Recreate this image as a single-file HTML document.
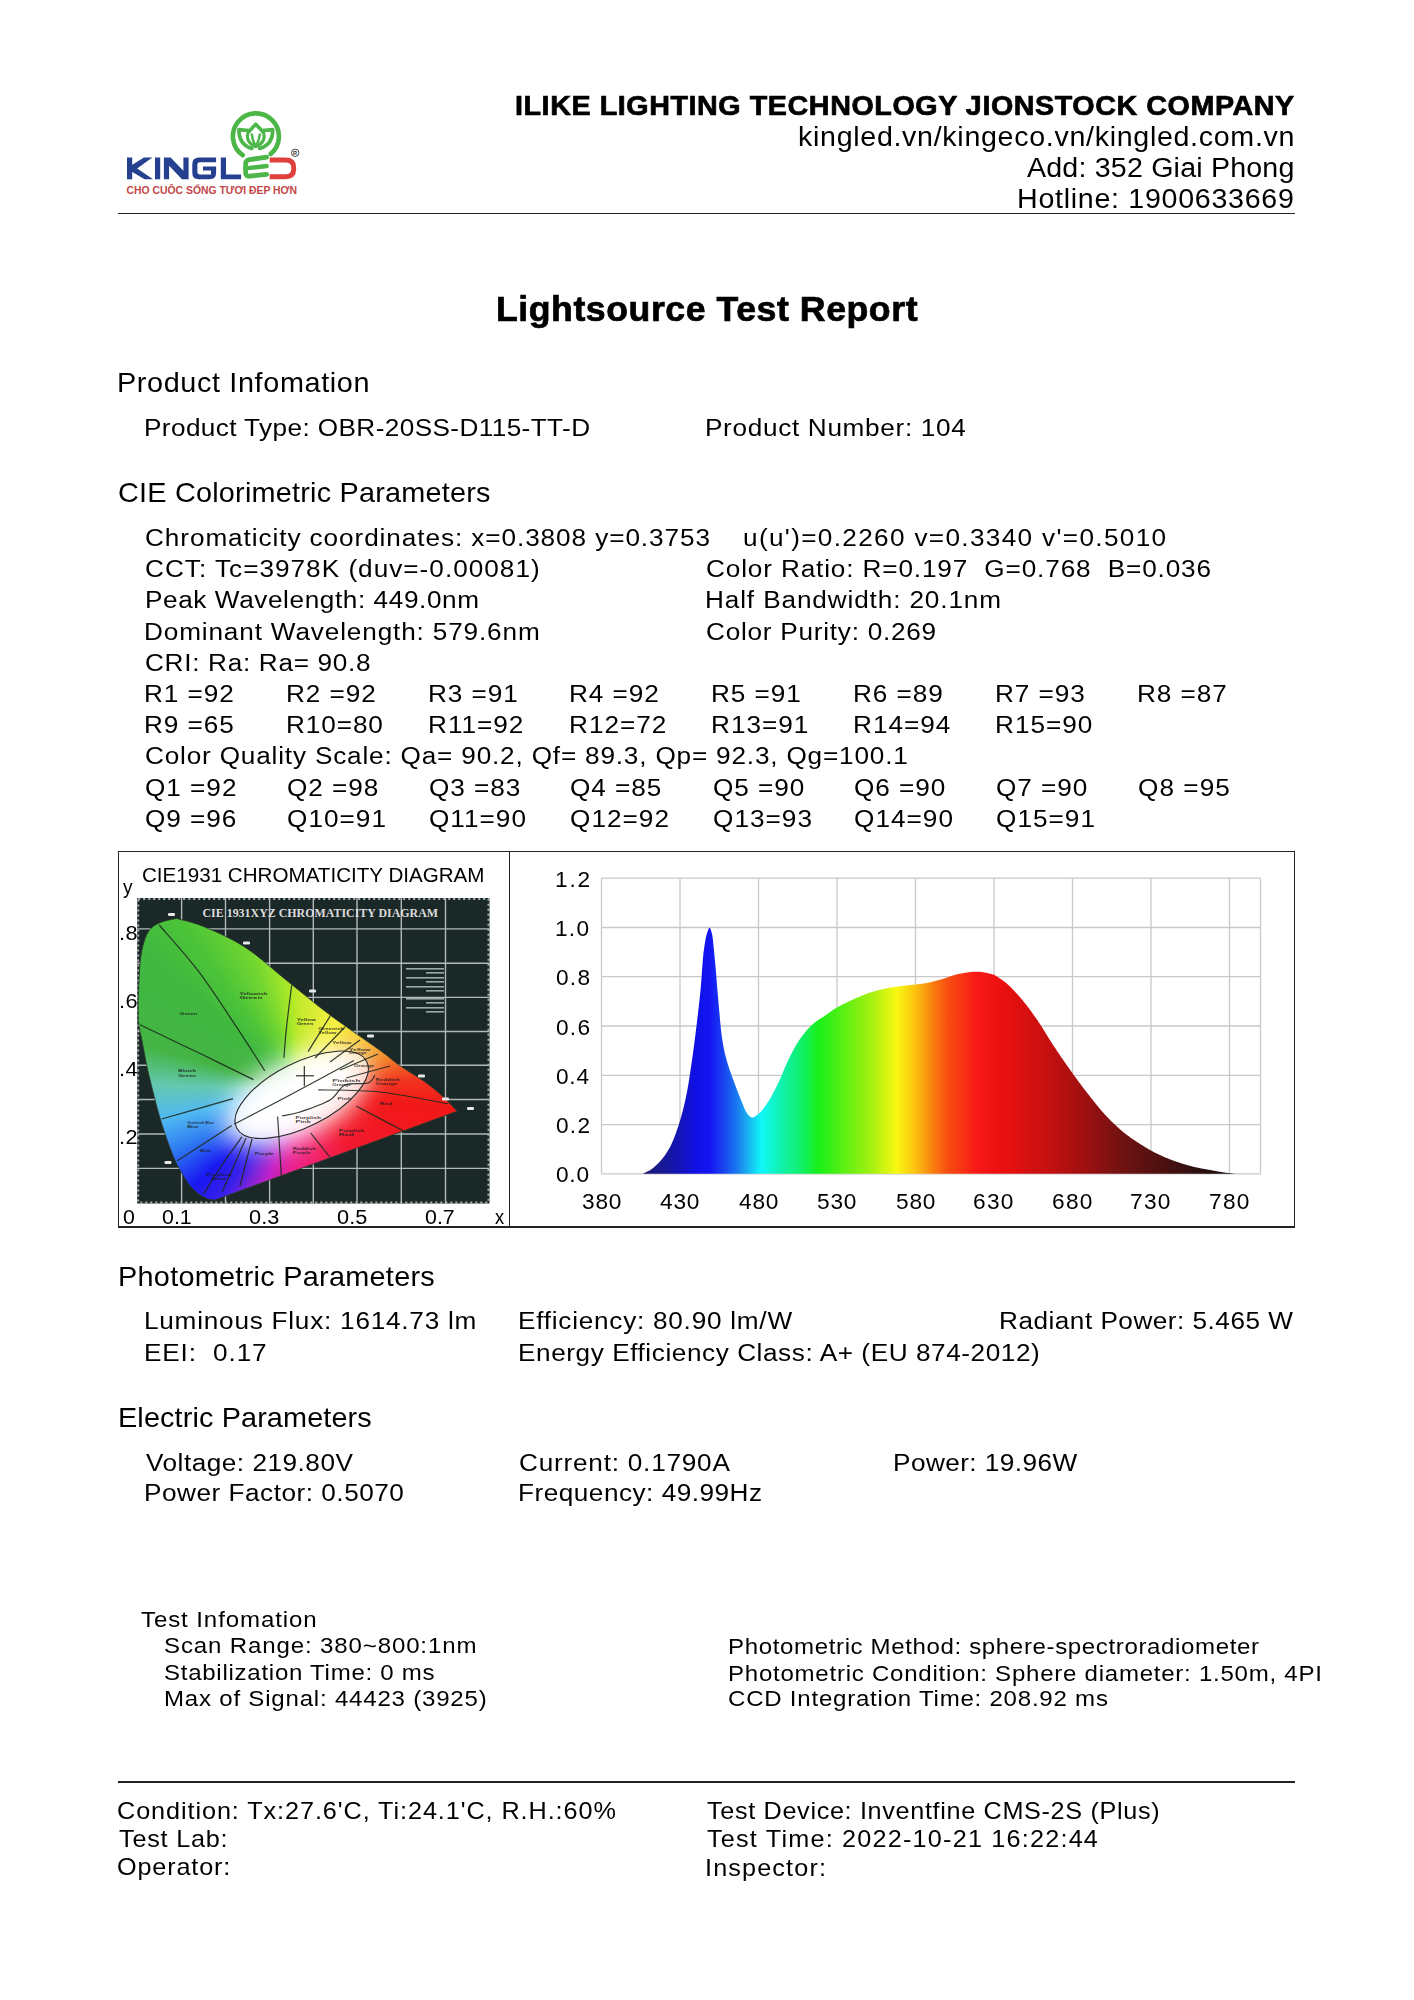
<!DOCTYPE html>
<html><head><meta charset="utf-8"><style>
html,body{margin:0;padding:0;background:#fff;}
body{width:1414px;height:2000px;position:relative;overflow:hidden;font-family:"Liberation Sans",sans-serif;color:#000;}
.t{position:absolute;white-space:pre;line-height:normal;transform-origin:0 0;}
.b{font-weight:bold;-webkit-text-stroke:0.7px #000;}
.abs{position:absolute;left:0;top:0;}
.hl{position:absolute;background:#222;}
</style></head><body>
<svg class="abs" width="320" height="210" viewBox="0 0 320 210">
<g fill="#24408e">
<rect x="127" y="157.5" width="5.2" height="21.8"/>
<polygon points="131.5,165.2 144,157.5 152.3,157.5 137.2,168.4 153,179.3 144.6,179.3 131.5,171.6"/>
<rect x="155" y="157.5" width="5.2" height="21.8"/>
<polygon points="163.9,157.5 170.6,157.5 183.4,170.8 183.4,157.5 188.6,157.5 188.6,179.3 182,179.3 169.1,165.8 169.1,179.3 163.9,179.3"/>
<path d="M216.1,157.5 L199,157.5 Q192.3,157.5 192.3,164 L192.3,172.8 Q192.3,179.3 199,179.3 L209.5,179.3 Q216.1,179.3 216.1,172.8 L216.1,166.6 L203,166.6 L203,170.6 L211,170.6 L211,174.4 L199.5,174.4 Q197.4,174.4 197.4,172.3 L197.4,164.5 Q197.4,162.2 199.5,162.2 L216.1,162.2 Z"/>
<polygon points="220.8,157.5 226,157.5 226,174.5 241.1,174.5 241.1,179.3 220.8,179.3"/>
</g>
<g fill="none" stroke="#4cb748" stroke-linecap="round" stroke-linejoin="round">
<path d="M242.71,155.24 A23.0,23.0 0 1 1 270.68,154.02" stroke-width="4.6"/>
<path d="M266.6,157.2 L249.5,159.7 Q245.6,160.3 245.6,164 L245.6,172.6 Q245.6,176.6 249.5,176.2 L266.6,174.3" stroke-width="4.8"/>
<path d="M245.8,168.4 L266.6,166" stroke-width="4.4"/>
<path d="M249.2,131.2 L255.8,124.2 L262.5,131.2" stroke-width="3.6"/>
<path d="M249,131 C245.5,137 248,143.5 255.6,146.6" stroke-width="3.2"/>
<path d="M262.6,131 C266.1,137 263.6,143.5 256,146.6" stroke-width="3.2"/>
<path d="M251.8,134.5 Q253,142 255.8,145.6 Q258.6,142 259.8,134.5" stroke-width="2.4"/>
<path d="M248.8,130.7 L239,129.6 Q238.6,144.5 251.8,148.4" stroke-width="3.8"/>
<path d="M262.8,130.7 L272.6,129.6 Q273,144.5 259.8,148.4" stroke-width="3.8"/>
</g>
<path d="M269.7,160 L285.5,160 Q293.7,160 293.7,167.5 L293.7,169.3 Q293.7,176.7 285.5,176.7 L269.7,176.7" fill="none" stroke="#e0403c" stroke-width="4.9"/>
<circle cx="295.2" cy="152.8" r="3.7" fill="none" stroke="#333" stroke-width="0.9"/>
<text x="293.1" y="155" font-family="Liberation Sans" font-weight="bold" font-size="5.6" fill="#333">R</text>
<text x="126.5" y="193.7" font-family="Liberation Sans" font-weight="bold" font-size="10.6" fill="#c2474a" textLength="170.5" lengthAdjust="spacingAndGlyphs">CHO CUÔC SỐNG TƯƠI ĐEP HƠN</text>
</svg>

<div class="hl" style="left:118px;top:212.5px;width:1177px;height:1.6px"></div>
<div class="hl" style="left:117.6px;top:1781px;width:1177.4px;height:1.6px"></div>
<div class="hl" style="left:117.5px;top:851px;width:1177.5px;height:1.3px"></div>
<div class="hl" style="left:117.5px;top:1226.4px;width:1177.5px;height:1.3px"></div>
<div class="hl" style="left:117.5px;top:851px;width:1.3px;height:376.7px"></div>
<div class="hl" style="left:1293.9px;top:851px;width:1.3px;height:376.7px"></div>
<div class="hl" style="left:509.2px;top:851px;width:1.3px;height:376.7px"></div>
<svg class="abs" width="1414" height="2000" viewBox="0 0 1414 2000">
<defs><linearGradient id="sg" gradientUnits="userSpaceOnUse" x1="642.3" y1="0" x2="1237.3" y2="0"><stop offset="0.0000" stop-color="#161668"/><stop offset="0.0264" stop-color="#1a1a8c"/><stop offset="0.0633" stop-color="#1414b8"/><stop offset="0.0897" stop-color="#1010e6"/><stop offset="0.1135" stop-color="#1414f4"/><stop offset="0.1346" stop-color="#1840f0"/><stop offset="0.1557" stop-color="#1a70f0"/><stop offset="0.1768" stop-color="#18b0f0"/><stop offset="0.2005" stop-color="#10f8f8"/><stop offset="0.2401" stop-color="#10f0a0"/><stop offset="0.2718" stop-color="#10f060"/><stop offset="0.2955" stop-color="#18f018"/><stop offset="0.3826" stop-color="#a0f010"/><stop offset="0.4274" stop-color="#f8f810"/><stop offset="0.4591" stop-color="#fcc010"/><stop offset="0.4881" stop-color="#f88010"/><stop offset="0.5119" stop-color="#f85010"/><stop offset="0.5620" stop-color="#f81818"/><stop offset="0.6016" stop-color="#ec1010"/><stop offset="0.6438" stop-color="#d81010"/><stop offset="0.6913" stop-color="#c01010"/><stop offset="0.7493" stop-color="#9a1010"/><stop offset="0.8074" stop-color="#701212"/><stop offset="0.8681" stop-color="#501010"/><stop offset="0.9261" stop-color="#301010"/><stop offset="1.0000" stop-color="#140a0a"/></linearGradient></defs>
<g stroke="#c8c8c8" stroke-width="1.3" fill="none"><line x1="601.5" y1="878.2" x2="601.5" y2="1173.8"/><line x1="680.0" y1="878.2" x2="680.0" y2="1173.8"/><line x1="758.5" y1="878.2" x2="758.5" y2="1173.8"/><line x1="837.0" y1="878.2" x2="837.0" y2="1173.8"/><line x1="915.5" y1="878.2" x2="915.5" y2="1173.8"/><line x1="994.0" y1="878.2" x2="994.0" y2="1173.8"/><line x1="1072.5" y1="878.2" x2="1072.5" y2="1173.8"/><line x1="1151.0" y1="878.2" x2="1151.0" y2="1173.8"/><line x1="1229.5" y1="878.2" x2="1229.5" y2="1173.8"/><line x1="601.5" y1="878.2" x2="1260.5" y2="878.2"/><line x1="601.5" y1="927.5" x2="1260.5" y2="927.5"/><line x1="601.5" y1="976.7" x2="1260.5" y2="976.7"/><line x1="601.5" y1="1026.0" x2="1260.5" y2="1026.0"/><line x1="601.5" y1="1075.3" x2="1260.5" y2="1075.3"/><line x1="601.5" y1="1124.6" x2="1260.5" y2="1124.6"/><line x1="601.5" y1="1173.8" x2="1260.5" y2="1173.8"/><line x1="1260.5" y1="878.2" x2="1260.5" y2="1173.8"/></g>
<path d="M642.6,1173.8 L642.63,1173.80 L643.17,1173.54 L643.71,1173.29 L644.25,1173.04 L644.79,1172.80 L645.33,1172.56 L645.86,1172.32 L646.40,1172.07 L646.94,1171.82 L647.48,1171.57 L648.02,1171.30 L648.56,1171.02 L649.09,1170.73 L649.63,1170.43 L650.17,1170.10 L650.71,1169.76 L651.26,1169.39 L651.80,1169.01 L652.35,1168.61 L652.89,1168.19 L653.44,1167.76 L653.98,1167.31 L654.52,1166.84 L655.07,1166.36 L655.61,1165.87 L656.16,1165.36 L656.70,1164.84 L657.25,1164.30 L657.79,1163.76 L658.33,1163.20 L658.87,1162.64 L659.41,1162.06 L659.95,1161.47 L660.49,1160.86 L661.03,1160.24 L661.56,1159.61 L662.10,1158.95 L662.64,1158.28 L663.18,1157.59 L663.72,1156.88 L664.26,1156.16 L664.79,1155.41 L665.33,1154.64 L665.87,1153.85 L666.41,1153.04 L666.95,1152.20 L667.48,1151.35 L668.02,1150.46 L668.56,1149.56 L669.10,1148.63 L669.64,1147.67 L670.19,1146.65 L670.74,1145.58 L671.29,1144.45 L671.84,1143.28 L672.39,1142.05 L672.93,1140.77 L673.48,1139.45 L674.03,1138.08 L674.58,1136.67 L675.13,1135.21 L675.68,1133.72 L676.23,1132.19 L676.78,1130.62 L677.33,1129.02 L677.88,1127.38 L678.43,1125.71 L678.98,1124.01 L679.53,1122.28 L680.07,1120.53 L680.62,1118.71 L681.16,1116.82 L681.70,1114.87 L682.25,1112.84 L682.79,1110.74 L683.33,1108.57 L683.88,1106.33 L684.42,1104.01 L684.96,1101.61 L685.51,1099.13 L686.05,1096.58 L686.59,1093.93 L687.16,1091.03 L687.72,1087.93 L688.29,1084.64 L688.85,1081.19 L689.42,1077.60 L689.99,1073.90 L690.55,1070.11 L691.12,1066.26 L691.68,1062.36 L692.25,1058.44 L692.78,1054.70 L693.31,1050.86 L693.84,1046.92 L694.37,1042.88 L694.90,1038.76 L695.43,1034.55 L695.96,1030.26 L696.49,1025.90 L697.01,1021.51 L697.54,1017.09 L698.07,1012.60 L698.60,1008.01 L699.13,1003.26 L699.66,998.32 L700.19,993.15 L700.72,987.69 L701.29,980.90 L701.85,973.07 L702.42,965.12 L702.98,957.94 L703.55,952.44 L704.15,948.00 L704.75,943.99 L705.36,940.42 L705.96,937.34 L706.56,934.77 L707.16,932.72 L707.75,930.98 L708.34,929.39 L708.93,928.24 L709.52,927.79 L710.14,928.31 L710.77,929.68 L711.40,931.64 L712.03,933.96 L712.59,937.08 L713.16,941.77 L713.72,947.46 L714.29,953.59 L714.85,959.59 L715.46,966.08 L716.06,973.11 L716.66,980.46 L717.26,987.88 L717.86,995.14 L718.47,1001.99 L719.04,1008.42 L719.62,1014.98 L720.19,1021.39 L720.77,1027.42 L721.34,1032.79 L721.92,1037.24 L722.45,1040.68 L722.98,1043.84 L723.51,1046.74 L724.04,1049.41 L724.57,1051.88 L725.10,1054.19 L725.63,1056.37 L726.16,1058.44 L726.70,1060.46 L727.24,1062.37 L727.79,1064.19 L728.33,1065.92 L728.88,1067.58 L729.42,1069.17 L729.96,1070.72 L730.51,1072.23 L731.05,1073.71 L731.59,1075.18 L732.14,1076.65 L732.68,1078.13 L733.22,1079.64 L733.77,1081.15 L734.31,1082.65 L734.85,1084.14 L735.40,1085.62 L735.94,1087.08 L736.48,1088.52 L737.03,1089.95 L737.57,1091.36 L738.11,1092.76 L738.66,1094.13 L739.20,1095.48 L739.74,1096.81 L740.29,1098.12 L740.83,1099.45 L741.37,1100.81 L741.92,1102.20 L742.46,1103.59 L743.01,1104.97 L743.55,1106.32 L744.09,1107.63 L744.64,1108.88 L745.18,1110.05 L745.72,1111.14 L746.27,1112.11 L746.81,1112.95 L747.35,1113.65 L747.89,1114.28 L748.43,1114.91 L748.98,1115.51 L749.52,1116.07 L750.06,1116.57 L750.60,1116.99 L751.14,1117.32 L751.68,1117.52 L752.22,1117.60 L752.76,1117.55 L753.29,1117.43 L753.83,1117.23 L754.37,1116.96 L754.90,1116.64 L755.44,1116.28 L755.97,1115.87 L756.51,1115.45 L757.05,1115.00 L757.58,1114.55 L758.12,1114.10 L758.66,1113.65 L759.21,1113.19 L759.76,1112.69 L760.31,1112.15 L760.86,1111.57 L761.40,1110.96 L761.95,1110.32 L762.50,1109.65 L763.05,1108.96 L763.60,1108.24 L764.15,1107.50 L764.70,1106.74 L765.25,1105.97 L765.80,1105.18 L766.35,1104.37 L766.90,1103.56 L767.45,1102.74 L768.00,1101.91 L768.55,1101.08 L769.10,1100.24 L769.65,1099.36 L770.20,1098.45 L770.75,1097.52 L771.30,1096.56 L771.85,1095.58 L772.39,1094.58 L772.94,1093.56 L773.49,1092.51 L774.04,1091.46 L774.59,1090.38 L775.14,1089.30 L775.69,1088.20 L776.24,1087.09 L776.79,1085.98 L777.34,1084.85 L777.89,1083.73 L778.44,1082.60 L778.99,1081.44 L779.54,1080.25 L780.09,1079.02 L780.64,1077.76 L781.19,1076.48 L781.74,1075.18 L782.29,1073.87 L782.84,1072.54 L783.38,1071.22 L783.93,1069.89 L784.48,1068.57 L785.03,1067.26 L785.58,1065.96 L786.13,1064.69 L786.68,1063.45 L787.23,1062.23 L787.78,1061.05 L788.33,1059.92 L788.88,1058.81 L789.42,1057.71 L789.97,1056.61 L790.51,1055.52 L791.06,1054.44 L791.60,1053.36 L792.15,1052.30 L792.70,1051.25 L793.24,1050.21 L793.79,1049.18 L794.33,1048.17 L794.88,1047.18 L795.42,1046.20 L795.97,1045.24 L796.52,1044.31 L797.06,1043.40 L797.61,1042.51 L798.15,1041.64 L798.70,1040.80 L799.25,1039.99 L799.79,1039.21 L800.33,1038.45 L800.88,1037.71 L801.42,1036.97 L801.96,1036.24 L802.51,1035.53 L803.05,1034.82 L803.60,1034.13 L804.14,1033.44 L804.68,1032.77 L805.23,1032.11 L805.77,1031.46 L806.31,1030.83 L806.86,1030.20 L807.40,1029.59 L807.94,1028.99 L808.49,1028.40 L809.03,1027.82 L809.57,1027.25 L810.12,1026.70 L810.66,1026.16 L811.20,1025.63 L811.75,1025.12 L812.29,1024.62 L812.83,1024.13 L813.38,1023.65 L813.92,1023.19 L814.45,1022.76 L814.97,1022.34 L815.50,1021.94 L816.02,1021.55 L816.55,1021.17 L817.08,1020.80 L817.60,1020.44 L818.13,1020.09 L818.65,1019.75 L819.18,1019.41 L819.71,1019.08 L820.23,1018.75 L820.76,1018.42 L821.28,1018.09 L821.81,1017.76 L822.34,1017.43 L822.86,1017.09 L823.39,1016.75 L823.91,1016.40 L824.44,1016.04 L824.96,1015.68 L825.49,1015.31 L826.01,1014.94 L826.53,1014.56 L827.06,1014.18 L827.58,1013.80 L828.10,1013.42 L828.63,1013.04 L829.15,1012.66 L829.67,1012.28 L830.20,1011.90 L830.72,1011.52 L831.24,1011.15 L831.77,1010.78 L832.29,1010.42 L832.81,1010.06 L833.34,1009.71 L833.86,1009.37 L834.38,1009.04 L834.91,1008.71 L835.43,1008.40 L835.96,1008.08 L836.50,1007.78 L837.03,1007.47 L837.56,1007.17 L838.09,1006.87 L838.63,1006.57 L839.16,1006.28 L839.69,1005.99 L840.23,1005.70 L840.76,1005.42 L841.29,1005.14 L841.82,1004.86 L842.36,1004.59 L842.89,1004.31 L843.42,1004.05 L843.96,1003.78 L844.49,1003.51 L845.02,1003.25 L845.55,1002.99 L846.09,1002.73 L846.62,1002.48 L847.15,1002.22 L847.69,1001.97 L848.22,1001.72 L848.75,1001.47 L849.28,1001.22 L849.82,1000.98 L850.35,1000.73 L850.88,1000.49 L851.42,1000.25 L851.95,1000.00 L852.48,999.76 L853.01,999.52 L853.55,999.28 L854.09,999.04 L854.63,998.80 L855.16,998.56 L855.70,998.32 L856.24,998.08 L856.78,997.84 L857.31,997.61 L857.85,997.37 L858.39,997.13 L858.93,996.90 L859.47,996.67 L860.00,996.44 L860.54,996.21 L861.08,995.98 L861.62,995.76 L862.15,995.53 L862.69,995.31 L863.23,995.09 L863.77,994.88 L864.30,994.67 L864.84,994.46 L865.38,994.25 L865.92,994.04 L866.45,993.84 L866.99,993.65 L867.53,993.45 L868.07,993.26 L868.60,993.08 L869.14,992.90 L869.68,992.72 L870.22,992.55 L870.75,992.38 L871.29,992.21 L871.82,992.05 L872.35,991.89 L872.89,991.73 L873.42,991.57 L873.95,991.41 L874.48,991.26 L875.02,991.10 L875.55,990.95 L876.08,990.80 L876.62,990.65 L877.15,990.50 L877.68,990.36 L878.21,990.22 L878.75,990.08 L879.28,989.94 L879.81,989.80 L880.35,989.67 L880.88,989.54 L881.41,989.41 L881.94,989.28 L882.48,989.15 L883.01,989.03 L883.54,988.91 L884.08,988.79 L884.61,988.67 L885.14,988.56 L885.67,988.45 L886.21,988.34 L886.74,988.24 L887.27,988.14 L887.81,988.04 L888.34,987.94 L888.88,987.84 L889.41,987.75 L889.95,987.66 L890.49,987.57 L891.03,987.48 L891.56,987.40 L892.10,987.31 L892.64,987.23 L893.18,987.15 L893.72,987.07 L894.25,986.99 L894.79,986.91 L895.33,986.84 L895.87,986.76 L896.40,986.69 L896.94,986.62 L897.48,986.55 L898.02,986.48 L898.55,986.41 L899.09,986.34 L899.63,986.27 L900.17,986.20 L900.70,986.13 L901.24,986.07 L901.78,986.00 L902.32,985.94 L902.85,985.87 L903.39,985.80 L903.93,985.74 L904.47,985.67 L905.00,985.61 L905.54,985.54 L906.08,985.47 L906.62,985.41 L907.16,985.35 L907.69,985.28 L908.23,985.22 L908.77,985.17 L909.31,985.11 L909.84,985.05 L910.38,985.00 L910.92,984.94 L911.46,984.89 L911.99,984.84 L912.53,984.79 L913.07,984.73 L913.61,984.68 L914.14,984.63 L914.68,984.58 L915.22,984.52 L915.76,984.47 L916.29,984.42 L916.83,984.36 L917.37,984.31 L917.91,984.25 L918.44,984.19 L918.98,984.13 L919.52,984.07 L920.06,984.01 L920.60,983.94 L921.13,983.87 L921.67,983.81 L922.21,983.73 L922.75,983.66 L923.28,983.58 L923.82,983.50 L924.35,983.42 L924.89,983.33 L925.42,983.24 L925.95,983.14 L926.49,983.04 L927.02,982.94 L927.55,982.83 L928.08,982.72 L928.62,982.61 L929.15,982.49 L929.68,982.37 L930.22,982.25 L930.75,982.12 L931.28,981.99 L931.81,981.86 L932.35,981.73 L932.88,981.59 L933.41,981.46 L933.95,981.32 L934.48,981.18 L935.01,981.04 L935.54,980.90 L936.08,980.76 L936.61,980.61 L937.14,980.47 L937.68,980.32 L938.21,980.18 L938.74,980.03 L939.27,979.89 L939.81,979.74 L940.34,979.60 L940.87,979.45 L941.40,979.31 L941.94,979.16 L942.48,979.01 L943.02,978.85 L943.56,978.69 L944.09,978.52 L944.63,978.35 L945.17,978.17 L945.71,977.99 L946.24,977.81 L946.78,977.62 L947.32,977.44 L947.86,977.25 L948.39,977.06 L948.93,976.87 L949.47,976.68 L950.01,976.50 L950.54,976.31 L951.08,976.12 L951.62,975.94 L952.16,975.76 L952.69,975.58 L953.23,975.41 L953.77,975.24 L954.31,975.08 L954.85,974.92 L955.38,974.77 L955.92,974.62 L956.46,974.48 L957.00,974.34 L957.53,974.22 L958.07,974.10 L958.61,973.99 L959.15,973.89 L959.68,973.79 L960.21,973.70 L960.74,973.60 L961.28,973.50 L961.81,973.41 L962.34,973.31 L962.88,973.22 L963.41,973.12 L963.94,973.03 L964.47,972.94 L965.01,972.85 L965.54,972.76 L966.07,972.67 L966.61,972.59 L967.14,972.51 L967.67,972.43 L968.20,972.35 L968.74,972.27 L969.27,972.20 L969.80,972.14 L970.34,972.07 L970.87,972.01 L971.40,971.96 L971.93,971.91 L972.47,971.86 L973.00,971.82 L973.53,971.78 L974.07,971.75 L974.60,971.72 L975.13,971.70 L975.66,971.68 L976.20,971.67 L976.73,971.67 L977.26,971.67 L977.79,971.69 L978.32,971.71 L978.85,971.74 L979.38,971.77 L979.90,971.81 L980.43,971.86 L980.96,971.92 L981.49,971.98 L982.02,972.05 L982.55,972.13 L983.08,972.21 L983.61,972.29 L984.14,972.38 L984.67,972.48 L985.20,972.58 L985.73,972.68 L986.25,972.79 L986.78,972.90 L987.31,973.02 L987.84,973.13 L988.37,973.25 L988.90,973.38 L989.43,973.50 L989.96,973.63 L990.49,973.76 L991.02,973.89 L991.55,974.03 L992.08,974.20 L992.61,974.38 L993.15,974.59 L993.68,974.81 L994.21,975.05 L994.74,975.31 L995.28,975.58 L995.81,975.87 L996.34,976.17 L996.87,976.48 L997.41,976.80 L997.94,977.13 L998.47,977.48 L999.00,977.83 L999.54,978.18 L1000.07,978.55 L1000.60,978.92 L1001.13,979.29 L1001.67,979.66 L1002.20,980.04 L1002.73,980.41 L1003.26,980.79 L1003.80,981.18 L1004.34,981.58 L1004.88,981.99 L1005.42,982.42 L1005.95,982.86 L1006.49,983.32 L1007.03,983.78 L1007.57,984.26 L1008.11,984.74 L1008.65,985.24 L1009.18,985.75 L1009.72,986.26 L1010.26,986.79 L1010.80,987.32 L1011.34,987.86 L1011.88,988.40 L1012.41,988.96 L1012.95,989.52 L1013.49,990.08 L1014.03,990.65 L1014.57,991.23 L1015.11,991.81 L1015.64,992.39 L1016.18,992.97 L1016.72,993.56 L1017.26,994.15 L1017.80,994.74 L1018.34,995.33 L1018.87,995.93 L1019.41,996.53 L1019.95,997.15 L1020.49,997.77 L1021.02,998.39 L1021.56,999.03 L1022.10,999.67 L1022.64,1000.32 L1023.17,1000.97 L1023.71,1001.64 L1024.25,1002.31 L1024.79,1002.98 L1025.32,1003.66 L1025.86,1004.35 L1026.40,1005.04 L1026.94,1005.74 L1027.47,1006.44 L1028.01,1007.15 L1028.55,1007.86 L1029.09,1008.58 L1029.62,1009.31 L1030.16,1010.03 L1030.70,1010.76 L1031.24,1011.50 L1031.78,1012.24 L1032.31,1012.98 L1032.85,1013.73 L1033.39,1014.47 L1033.93,1015.23 L1034.46,1015.98 L1035.00,1016.74 L1035.54,1017.50 L1036.08,1018.26 L1036.61,1019.02 L1037.14,1019.78 L1037.67,1020.56 L1038.20,1021.35 L1038.73,1022.15 L1039.26,1022.96 L1039.79,1023.78 L1040.32,1024.60 L1040.84,1025.43 L1041.37,1026.26 L1041.90,1027.11 L1042.43,1027.95 L1042.96,1028.80 L1043.49,1029.66 L1044.02,1030.51 L1044.55,1031.37 L1045.08,1032.23 L1045.61,1033.09 L1046.14,1033.95 L1046.67,1034.82 L1047.20,1035.68 L1047.73,1036.53 L1048.26,1037.39 L1048.79,1038.24 L1049.32,1039.09 L1049.85,1039.94 L1050.38,1040.78 L1050.91,1041.61 L1051.44,1042.44 L1051.97,1043.26 L1052.50,1044.07 L1053.03,1044.88 L1053.56,1045.68 L1054.08,1046.47 L1054.61,1047.26 L1055.14,1048.05 L1055.66,1048.84 L1056.19,1049.63 L1056.72,1050.42 L1057.24,1051.20 L1057.77,1051.98 L1058.29,1052.77 L1058.82,1053.55 L1059.35,1054.32 L1059.87,1055.10 L1060.40,1055.88 L1060.92,1056.65 L1061.45,1057.42 L1061.98,1058.19 L1062.50,1058.96 L1063.03,1059.73 L1063.56,1060.50 L1064.08,1061.26 L1064.61,1062.02 L1065.13,1062.78 L1065.66,1063.54 L1066.19,1064.30 L1066.71,1065.05 L1067.24,1065.80 L1067.76,1066.56 L1068.29,1067.30 L1068.82,1068.05 L1069.34,1068.80 L1069.87,1069.54 L1070.40,1070.28 L1070.92,1071.02 L1071.45,1071.76 L1071.97,1072.49 L1072.50,1073.23 L1073.03,1073.96 L1073.56,1074.70 L1074.09,1075.43 L1074.61,1076.16 L1075.14,1076.89 L1075.67,1077.61 L1076.20,1078.34 L1076.73,1079.06 L1077.26,1079.78 L1077.79,1080.50 L1078.31,1081.22 L1078.84,1081.94 L1079.37,1082.65 L1079.90,1083.36 L1080.43,1084.07 L1080.96,1084.78 L1081.49,1085.48 L1082.01,1086.19 L1082.54,1086.89 L1083.07,1087.58 L1083.60,1088.28 L1084.13,1088.97 L1084.66,1089.66 L1085.19,1090.35 L1085.71,1091.04 L1086.24,1091.72 L1086.77,1092.40 L1087.30,1093.08 L1087.83,1093.75 L1088.36,1094.43 L1088.89,1095.10 L1089.42,1095.78 L1089.96,1096.46 L1090.49,1097.13 L1091.02,1097.81 L1091.55,1098.49 L1092.09,1099.16 L1092.62,1099.84 L1093.15,1100.51 L1093.69,1101.18 L1094.22,1101.85 L1094.75,1102.52 L1095.28,1103.18 L1095.82,1103.84 L1096.35,1104.50 L1096.88,1105.16 L1097.42,1105.81 L1097.95,1106.46 L1098.48,1107.11 L1099.01,1107.75 L1099.55,1108.39 L1100.08,1109.02 L1100.61,1109.65 L1101.15,1110.28 L1101.68,1110.89 L1102.21,1111.51 L1102.74,1112.11 L1103.28,1112.72 L1103.81,1113.31 L1104.34,1113.90 L1104.88,1114.48 L1105.41,1115.06 L1105.94,1115.63 L1106.48,1116.19 L1107.02,1116.76 L1107.55,1117.32 L1108.09,1117.88 L1108.63,1118.44 L1109.17,1118.99 L1109.70,1119.54 L1110.24,1120.08 L1110.78,1120.63 L1111.32,1121.16 L1111.85,1121.70 L1112.39,1122.23 L1112.93,1122.76 L1113.47,1123.28 L1114.01,1123.80 L1114.54,1124.32 L1115.08,1124.83 L1115.62,1125.33 L1116.16,1125.84 L1116.69,1126.34 L1117.23,1126.83 L1117.77,1127.32 L1118.31,1127.81 L1118.84,1128.29 L1119.38,1128.76 L1119.92,1129.23 L1120.46,1129.70 L1120.99,1130.16 L1121.53,1130.62 L1122.07,1131.07 L1122.61,1131.51 L1123.14,1131.95 L1123.68,1132.39 L1124.21,1132.81 L1124.75,1133.24 L1125.28,1133.66 L1125.81,1134.07 L1126.35,1134.48 L1126.88,1134.89 L1127.41,1135.29 L1127.94,1135.69 L1128.48,1136.09 L1129.01,1136.48 L1129.54,1136.87 L1130.08,1137.25 L1130.61,1137.64 L1131.14,1138.02 L1131.67,1138.39 L1132.21,1138.76 L1132.74,1139.13 L1133.27,1139.50 L1133.81,1139.87 L1134.34,1140.23 L1134.87,1140.59 L1135.40,1140.94 L1135.94,1141.30 L1136.47,1141.65 L1137.00,1142.00 L1137.54,1142.34 L1138.07,1142.69 L1138.60,1143.03 L1139.13,1143.37 L1139.67,1143.71 L1140.20,1144.05 L1140.73,1144.38 L1141.27,1144.71 L1141.80,1145.04 L1142.33,1145.37 L1142.86,1145.70 L1143.40,1146.03 L1143.93,1146.36 L1144.46,1146.68 L1145.00,1147.01 L1145.53,1147.33 L1146.06,1147.65 L1146.59,1147.97 L1147.13,1148.28 L1147.66,1148.60 L1148.19,1148.91 L1148.73,1149.22 L1149.26,1149.52 L1149.79,1149.83 L1150.32,1150.13 L1150.86,1150.43 L1151.39,1150.73 L1151.92,1151.03 L1152.46,1151.32 L1152.99,1151.61 L1153.52,1151.89 L1154.05,1152.18 L1154.59,1152.46 L1155.12,1152.73 L1155.65,1153.01 L1156.19,1153.28 L1156.72,1153.54 L1157.25,1153.81 L1157.78,1154.07 L1158.32,1154.32 L1158.85,1154.57 L1159.39,1154.82 L1159.93,1155.07 L1160.46,1155.32 L1161.00,1155.56 L1161.54,1155.81 L1162.08,1156.05 L1162.61,1156.28 L1163.15,1156.52 L1163.69,1156.75 L1164.23,1156.98 L1164.76,1157.21 L1165.30,1157.44 L1165.84,1157.66 L1166.38,1157.89 L1166.91,1158.11 L1167.45,1158.32 L1167.99,1158.54 L1168.53,1158.76 L1169.06,1158.97 L1169.60,1159.18 L1170.14,1159.38 L1170.68,1159.59 L1171.21,1159.79 L1171.75,1160.00 L1172.29,1160.20 L1172.83,1160.39 L1173.37,1160.59 L1173.90,1160.78 L1174.44,1160.97 L1174.98,1161.16 L1175.52,1161.35 L1176.05,1161.54 L1176.59,1161.72 L1177.12,1161.90 L1177.66,1162.08 L1178.19,1162.26 L1178.72,1162.44 L1179.26,1162.61 L1179.79,1162.79 L1180.32,1162.96 L1180.85,1163.14 L1181.39,1163.31 L1181.92,1163.48 L1182.45,1163.64 L1182.99,1163.81 L1183.52,1163.98 L1184.05,1164.14 L1184.58,1164.30 L1185.12,1164.46 L1185.65,1164.62 L1186.18,1164.78 L1186.72,1164.93 L1187.25,1165.09 L1187.78,1165.24 L1188.31,1165.39 L1188.85,1165.54 L1189.38,1165.68 L1189.91,1165.83 L1190.45,1165.97 L1190.98,1166.11 L1191.51,1166.24 L1192.04,1166.38 L1192.58,1166.51 L1193.11,1166.64 L1193.64,1166.77 L1194.17,1166.90 L1194.71,1167.02 L1195.25,1167.15 L1195.79,1167.27 L1196.33,1167.39 L1196.86,1167.50 L1197.40,1167.62 L1197.94,1167.73 L1198.48,1167.84 L1199.01,1167.95 L1199.55,1168.06 L1200.09,1168.17 L1200.63,1168.28 L1201.16,1168.38 L1201.70,1168.48 L1202.24,1168.59 L1202.78,1168.69 L1203.31,1168.79 L1203.85,1168.89 L1204.39,1168.99 L1204.93,1169.09 L1205.46,1169.19 L1206.00,1169.28 L1206.54,1169.38 L1207.08,1169.48 L1207.62,1169.57 L1208.15,1169.67 L1208.69,1169.77 L1209.23,1169.86 L1209.77,1169.96 L1210.30,1170.06 L1210.84,1170.15 L1211.38,1170.25 L1211.92,1170.35 L1212.45,1170.45 L1212.99,1170.55 L1213.53,1170.65 L1214.06,1170.75 L1214.60,1170.85 L1215.13,1170.95 L1215.67,1171.05 L1216.21,1171.15 L1216.74,1171.25 L1217.28,1171.35 L1217.82,1171.45 L1218.35,1171.54 L1218.89,1171.64 L1219.43,1171.73 L1219.96,1171.83 L1220.50,1171.92 L1221.04,1172.01 L1221.57,1172.10 L1222.11,1172.18 L1222.64,1172.26 L1223.18,1172.34 L1223.72,1172.42 L1224.25,1172.50 L1224.79,1172.57 L1225.33,1172.64 L1225.86,1172.70 L1226.40,1172.77 L1226.93,1172.83 L1227.47,1172.89 L1228.00,1172.95 L1228.54,1173.00 L1229.07,1173.06 L1229.61,1173.11 L1230.14,1173.17 L1230.68,1173.22 L1231.21,1173.27 L1231.75,1173.33 L1232.28,1173.38 L1232.82,1173.43 L1233.35,1173.48 L1233.89,1173.53 L1234.42,1173.58 L1234.96,1173.64 L1235.49,1173.69 L1236.03,1173.74 L1236.57,1173.80 Z" fill="url(#sg)"/>
</svg>
<svg class="abs" width="520" height="1240" viewBox="0 0 520 1240">
<defs>
<clipPath id="lc"><path d="M176.4,918.4 C173.8,919.1 165.1,920.4 160.5,922.5 C155.9,924.6 151.9,926.3 148.8,930.9 C145.7,935.5 143.5,942.4 141.9,950.2 C140.3,958.0 139.7,966.3 139.1,977.8 C138.5,989.3 137.9,1008.7 138.4,1019.1 C138.9,1029.5 140.2,1030.8 141.9,1040.0 C143.6,1049.2 145.8,1061.6 148.8,1074.5 C151.8,1087.4 156.1,1104.6 159.8,1117.2 C163.5,1129.8 167.5,1141.3 170.9,1150.3 C174.3,1159.3 176.8,1164.5 180.5,1171.0 C184.2,1177.5 188.5,1184.4 192.9,1189.0 C197.3,1193.6 203.0,1196.8 206.7,1198.6 C210.4,1200.4 213.6,1199.8 215.0,1200.0 L457.2,1111.2  C454.5,1108.5 446.5,1099.9 440.9,1094.8 C435.2,1089.7 430.1,1085.6 423.3,1080.8 C416.5,1076.0 407.2,1070.8 400.0,1065.7 C392.8,1060.7 391.9,1059.0 380.2,1050.5 C368.5,1042.0 345.6,1026.7 330.0,1015.0 C314.4,1003.3 300.8,991.8 286.7,980.5 C272.6,969.2 259.1,956.4 245.3,947.4 C231.5,938.4 215.5,931.5 204.0,926.7 C192.5,921.9 181.0,919.8 176.4,918.4 Z"/></clipPath>
<filter id="bl" x="-50%" y="-50%" width="200%" height="200%"><feGaussianBlur stdDeviation="13"/></filter>
</defs>
<rect x="137.2" y="898" width="352.3" height="305.5" fill="#1b2828"/>
<g stroke="#b0b8b8" stroke-width="1.4"><line x1="181.6" y1="898.0" x2="181.6" y2="1203.5"/><line x1="225.5" y1="898.0" x2="225.5" y2="1203.5"/><line x1="269.6" y1="898.0" x2="269.6" y2="1203.5"/><line x1="313.3" y1="898.0" x2="313.3" y2="1203.5"/><line x1="357.0" y1="898.0" x2="357.0" y2="1203.5"/><line x1="401.3" y1="898.0" x2="401.3" y2="1203.5"/><line x1="445.5" y1="898.0" x2="445.5" y2="1203.5"/><line x1="137.2" y1="928.9" x2="489.5" y2="928.9"/><line x1="137.2" y1="963.2" x2="489.5" y2="963.2"/><line x1="137.2" y1="997.4" x2="489.5" y2="997.4"/><line x1="137.2" y1="1031.5" x2="489.5" y2="1031.5"/><line x1="137.2" y1="1065.3" x2="489.5" y2="1065.3"/><line x1="137.2" y1="1099.5" x2="489.5" y2="1099.5"/><line x1="137.2" y1="1134.0" x2="489.5" y2="1134.0"/><line x1="137.2" y1="1168.4" x2="489.5" y2="1168.4"/></g>
<rect x="138.2" y="899" width="350.3" height="303.5" fill="none" stroke="#aab2b2" stroke-width="2" stroke-dasharray="2 3"/>
<text x="202.5" y="916.6" font-family="Liberation Serif" font-weight="bold" font-size="11.5" fill="#dcdcdc" textLength="235.5" lengthAdjust="spacingAndGlyphs">CIE 1931XYZ CHROMATICITY DIAGRAM</text>
<rect x="406.0" y="968.0" width="38" height="1.6" fill="#9aa"/><rect x="426.0" y="972.0" width="18" height="1.6" fill="#9aa"/><rect x="406.0" y="977.0" width="38" height="1.6" fill="#9aa"/><rect x="426.0" y="981.0" width="18" height="1.6" fill="#9aa"/><rect x="406.0" y="986.0" width="38" height="1.6" fill="#9aa"/><rect x="426.0" y="990.0" width="18" height="1.6" fill="#9aa"/><rect x="406.0" y="998.0" width="38" height="1.6" fill="#9aa"/><rect x="426.0" y="1002.0" width="18" height="1.6" fill="#9aa"/><rect x="406.0" y="1007.0" width="38" height="1.6" fill="#9aa"/><rect x="426.0" y="1011.0" width="18" height="1.6" fill="#9aa"/>
</svg><div style="position:absolute;left:130px;top:900px;width:340px;height:310px;background:conic-gradient(from 0deg at 170px 190px, #c4ea2c 0deg, #eef040 22deg, #f6f03e 30deg, #f6c432 50deg, #f29028 67deg, #f23420 85deg, #f21818 97deg, #f21830 140deg, #f2206a 168deg, #ea2090 187deg, #c020c8 200deg, #8024d8 208deg, #3a20ea 216deg, #1818f2 228deg, #3080f2 245deg, #50b8f2 258deg, #64c8b0 272deg, #44b444 286deg, #40b840 312deg, #4cc438 325deg, #72d630 340deg, #a8e828 353deg, #c4ea2c 360deg);clip-path:path('M46.4,18.4 C43.8,19.1 35.1,20.4 30.5,22.5 C25.9,24.6 21.9,26.3 18.8,30.9 C15.7,35.5 13.5,42.4 11.9,50.2 C10.3,58.0 9.7,66.3 9.1,77.8 C8.5,89.3 7.9,108.7 8.4,119.1 C8.9,129.5 10.2,130.8 11.9,140.0 C13.6,149.2 15.8,161.6 18.8,174.5 C21.8,187.4 26.1,204.6 29.8,217.2 C33.5,229.8 37.5,241.3 40.9,250.3 C44.3,259.3 46.8,264.5 50.5,271.0 C54.2,277.5 58.5,284.4 62.9,289.0 C67.3,293.6 73.0,296.8 76.7,298.6 C80.4,300.4 83.6,299.8 85.0,300.0 L327.2,211.2  C324.5,208.5 316.5,199.9 310.9,194.8 C305.2,189.7 300.1,185.6 293.3,180.8 C286.5,176.0 277.2,170.8 270.0,165.7 C262.8,160.7 261.9,159.0 250.2,150.5 C238.5,142.0 215.6,126.7 200.0,115.0 C184.4,103.3 170.8,91.8 156.7,80.5 C142.6,69.2 129.1,56.4 115.3,47.4 C101.5,38.4 85.5,31.5 74.0,26.7 C62.5,21.9 51.0,19.8 46.4,18.4 Z')"></div><svg class="abs" width="520" height="1240" viewBox="0 0 520 1240"><defs><clipPath id="lc2"><path d="M176.4,918.4 C173.8,919.1 165.1,920.4 160.5,922.5 C155.9,924.6 151.9,926.3 148.8,930.9 C145.7,935.5 143.5,942.4 141.9,950.2 C140.3,958.0 139.7,966.3 139.1,977.8 C138.5,989.3 137.9,1008.7 138.4,1019.1 C138.9,1029.5 140.2,1030.8 141.9,1040.0 C143.6,1049.2 145.8,1061.6 148.8,1074.5 C151.8,1087.4 156.1,1104.6 159.8,1117.2 C163.5,1129.8 167.5,1141.3 170.9,1150.3 C174.3,1159.3 176.8,1164.5 180.5,1171.0 C184.2,1177.5 188.5,1184.4 192.9,1189.0 C197.3,1193.6 203.0,1196.8 206.7,1198.6 C210.4,1200.4 213.6,1199.8 215.0,1200.0 L457.2,1111.2  C454.5,1108.5 446.5,1099.9 440.9,1094.8 C435.2,1089.7 430.1,1085.6 423.3,1080.8 C416.5,1076.0 407.2,1070.8 400.0,1065.7 C392.8,1060.7 391.9,1059.0 380.2,1050.5 C368.5,1042.0 345.6,1026.7 330.0,1015.0 C314.4,1003.3 300.8,991.8 286.7,980.5 C272.6,969.2 259.1,956.4 245.3,947.4 C231.5,938.4 215.5,931.5 204.0,926.7 C192.5,921.9 181.0,919.8 176.4,918.4 Z"/></clipPath><filter id="bl2" x="-50%" y="-50%" width="200%" height="200%"><feGaussianBlur stdDeviation="13"/></filter></defs><g clip-path="url(#lc2)">
<g filter="url(#bl2)"><ellipse cx="296" cy="1098" rx="78" ry="38" transform="rotate(-27 296 1098)" fill="#fff"/></g>
<ellipse cx="301.7" cy="1094.8" rx="73" ry="32" transform="rotate(-27 301.7 1094.8)" fill="#ffffff" fill-opacity="0.55" stroke="#2a2a2a" stroke-width="1.1"/>
<g fill="none" stroke="#1e2a1e" stroke-width="1.2" stroke-opacity="0.9"><path d="M159.2,925.0 C165.8,932.7 185.7,954.3 198.6,971.4 C211.5,988.5 225.8,1010.9 236.8,1027.4 C247.8,1044.0 260.1,1063.5 264.8,1070.7"/><path d="M140.1,1024.8 C149.8,1029.5 179.7,1043.7 198.6,1052.8 C217.5,1061.9 244.3,1075.1 253.4,1079.6"/><path d="M291.6,985.4 C290.8,992.4 287.8,1015.3 286.5,1027.4 C285.2,1039.5 284.3,1052.8 283.9,1057.9"/><path d="M331.0,1014.7 C327.2,1020.9 311.9,1045.4 308.1,1051.6"/><path d="M345.0,1027.0 C340.0,1032.2 320.0,1052.8 315.0,1058.0"/><path d="M360.0,1040.0 C355.0,1043.7 335.0,1058.3 330.0,1062.0"/><path d="M378.0,1054.0 C371.7,1056.7 346.3,1067.3 340.0,1070.0"/><path d="M390.0,1066.0 C382.7,1068.0 353.3,1076.0 346.0,1078.0"/><path d="M161.7,1119.0 C173.6,1115.6 221.1,1102.1 233.0,1098.7"/><path d="M177.0,1161.0 C186.1,1155.1 222.6,1131.3 231.7,1125.4"/><path d="M241.9,1136.9 C238.6,1141.6 228.4,1155.5 222.0,1165.0 C215.6,1174.5 206.8,1189.2 203.7,1194.1"/><path d="M246.0,1138.0 C243.7,1143.3 236.0,1161.0 232.0,1170.0 C228.0,1179.0 223.7,1188.3 222.0,1192.0"/><path d="M252.0,1139.0 C250.7,1144.2 246.0,1162.2 244.0,1170.0 C242.0,1177.8 240.7,1183.3 240.0,1186.0"/><path d="M277.6,1116.5 C278.2,1126.5 280.8,1166.3 281.4,1176.3"/><path d="M310.7,1133.0 C314.1,1137.2 327.6,1154.2 331.0,1158.5"/><path d="M318.3,1089.8 C328.6,1090.2 358.4,1089.7 380.0,1092.0 C401.6,1094.3 436.8,1101.8 448.1,1103.8"/><path d="M356.5,1106.3 C365.0,1110.8 398.9,1128.5 407.4,1133.0"/><path d="M234.3,1124.1 C243.6,1119.2 270.1,1105.6 290.0,1095.0 C309.9,1084.4 343.3,1066.2 354.0,1060.5"/><path d="M282.0,1116.0 C285.0,1115.3 292.0,1114.7 300.0,1112.0 C308.0,1109.3 322.5,1104.5 330.0,1100.0 C337.5,1095.5 338.7,1087.8 345.0,1085.0 C351.3,1082.2 363.0,1084.7 368.0,1083.0 C373.0,1081.3 373.8,1076.3 375.0,1075.0"/></g><text x="179.6" y="1014.9" font-family="Liberation Sans" font-weight="bold" font-size="4.2" fill="#1a1a1a" fill-opacity="0.85" textLength="17.8" lengthAdjust="spacingAndGlyphs">Green</text><text x="239.4" y="994.5" font-family="Liberation Sans" font-weight="bold" font-size="4.2" fill="#1a1a1a" fill-opacity="0.85" textLength="28.0" lengthAdjust="spacingAndGlyphs">Yellowish</text><text x="239.4" y="998.8" font-family="Liberation Sans" font-weight="bold" font-size="4.2" fill="#1a1a1a" fill-opacity="0.85" textLength="22.9" lengthAdjust="spacingAndGlyphs">Green</text><text x="178.3" y="1072.2" font-family="Liberation Sans" font-weight="bold" font-size="4.2" fill="#1a1a1a" fill-opacity="0.85" textLength="17.8" lengthAdjust="spacingAndGlyphs">Bluish</text><text x="178.3" y="1076.5" font-family="Liberation Sans" font-weight="bold" font-size="4.2" fill="#1a1a1a" fill-opacity="0.85" textLength="17.8" lengthAdjust="spacingAndGlyphs">Green</text><text x="187.2" y="1123.8" font-family="Liberation Sans" font-weight="bold" font-size="4.2" fill="#1a1a1a" fill-opacity="0.85" textLength="26.7" lengthAdjust="spacingAndGlyphs">Greenish Blue</text><text x="187.2" y="1128.2" font-family="Liberation Sans" font-weight="bold" font-size="4.2" fill="#1a1a1a" fill-opacity="0.85" textLength="11.5" lengthAdjust="spacingAndGlyphs">Blue</text><text x="199.9" y="1152.4" font-family="Liberation Sans" font-weight="bold" font-size="4.2" fill="#1a1a1a" fill-opacity="0.85" textLength="11.5" lengthAdjust="spacingAndGlyphs">Blue</text><text x="206.3" y="1176.0" font-family="Liberation Sans" font-weight="bold" font-size="4.2" fill="#1a1a1a" fill-opacity="0.85" textLength="25.5" lengthAdjust="spacingAndGlyphs">Purplish</text><text x="211.4" y="1180.4" font-family="Liberation Sans" font-weight="bold" font-size="4.2" fill="#1a1a1a" fill-opacity="0.85" textLength="15.3" lengthAdjust="spacingAndGlyphs">Blue</text><text x="254.7" y="1154.9" font-family="Liberation Sans" font-weight="bold" font-size="4.2" fill="#1a1a1a" fill-opacity="0.85" textLength="19.1" lengthAdjust="spacingAndGlyphs">Purple</text><text x="292.8" y="1149.8" font-family="Liberation Sans" font-weight="bold" font-size="4.2" fill="#1a1a1a" fill-opacity="0.85" textLength="22.9" lengthAdjust="spacingAndGlyphs">Reddish</text><text x="292.8" y="1153.6" font-family="Liberation Sans" font-weight="bold" font-size="4.2" fill="#1a1a1a" fill-opacity="0.85" textLength="17.8" lengthAdjust="spacingAndGlyphs">Purple</text><text x="295.4" y="1119.3" font-family="Liberation Sans" font-weight="bold" font-size="4.2" fill="#1a1a1a" fill-opacity="0.85" textLength="25.5" lengthAdjust="spacingAndGlyphs">Purplish</text><text x="295.4" y="1123.1" font-family="Liberation Sans" font-weight="bold" font-size="4.2" fill="#1a1a1a" fill-opacity="0.85" textLength="15.3" lengthAdjust="spacingAndGlyphs">Pink</text><text x="337.4" y="1100.2" font-family="Liberation Sans" font-weight="bold" font-size="4.2" fill="#1a1a1a" fill-opacity="0.85" textLength="14.0" lengthAdjust="spacingAndGlyphs">Pink</text><text x="379.4" y="1105.3" font-family="Liberation Sans" font-weight="bold" font-size="4.2" fill="#1a1a1a" fill-opacity="0.85" textLength="12.7" lengthAdjust="spacingAndGlyphs">Red</text><text x="338.7" y="1132.0" font-family="Liberation Sans" font-weight="bold" font-size="4.2" fill="#1a1a1a" fill-opacity="0.85" textLength="25.5" lengthAdjust="spacingAndGlyphs">Purplish</text><text x="338.7" y="1135.8" font-family="Liberation Sans" font-weight="bold" font-size="4.2" fill="#1a1a1a" fill-opacity="0.85" textLength="15.3" lengthAdjust="spacingAndGlyphs">Red</text><text x="375.6" y="1081.1" font-family="Liberation Sans" font-weight="bold" font-size="4.2" fill="#1a1a1a" fill-opacity="0.85" textLength="24.2" lengthAdjust="spacingAndGlyphs">Reddish</text><text x="375.6" y="1085.4" font-family="Liberation Sans" font-weight="bold" font-size="4.2" fill="#1a1a1a" fill-opacity="0.85" textLength="21.6" lengthAdjust="spacingAndGlyphs">Orange</text><text x="353.9" y="1067.1" font-family="Liberation Sans" font-weight="bold" font-size="4.2" fill="#1a1a1a" fill-opacity="0.85" textLength="20.4" lengthAdjust="spacingAndGlyphs">Orange</text><text x="332.3" y="1081.8" font-family="Liberation Sans" font-weight="bold" font-size="4.2" fill="#1a1a1a" fill-opacity="0.85" textLength="28.0" lengthAdjust="spacingAndGlyphs">Pinkish</text><text x="332.3" y="1086.2" font-family="Liberation Sans" font-weight="bold" font-size="4.2" fill="#1a1a1a" fill-opacity="0.85" textLength="19.1" lengthAdjust="spacingAndGlyphs">Orange</text><text x="348.8" y="1050.5" font-family="Liberation Sans" font-weight="bold" font-size="4.2" fill="#1a1a1a" fill-opacity="0.85" textLength="21.6" lengthAdjust="spacingAndGlyphs">Yellow</text><text x="348.8" y="1054.3" font-family="Liberation Sans" font-weight="bold" font-size="4.2" fill="#1a1a1a" fill-opacity="0.85" textLength="17.8" lengthAdjust="spacingAndGlyphs">Orange</text><text x="332.3" y="1043.6" font-family="Liberation Sans" font-weight="bold" font-size="4.2" fill="#1a1a1a" fill-opacity="0.85" textLength="19.1" lengthAdjust="spacingAndGlyphs">Yellow</text><text x="318.3" y="1030.2" font-family="Liberation Sans" font-weight="bold" font-size="4.2" fill="#1a1a1a" fill-opacity="0.85" textLength="25.5" lengthAdjust="spacingAndGlyphs">Greenish</text><text x="318.3" y="1034.0" font-family="Liberation Sans" font-weight="bold" font-size="4.2" fill="#1a1a1a" fill-opacity="0.85" textLength="17.8" lengthAdjust="spacingAndGlyphs">Yellow</text><text x="296.7" y="1020.5" font-family="Liberation Sans" font-weight="bold" font-size="4.2" fill="#1a1a1a" fill-opacity="0.85" textLength="19.1" lengthAdjust="spacingAndGlyphs">Yellow</text><text x="296.7" y="1024.6" font-family="Liberation Sans" font-weight="bold" font-size="4.2" fill="#1a1a1a" fill-opacity="0.85" textLength="16.5" lengthAdjust="spacingAndGlyphs">Green</text>
</g>
<path d="M176.4,918.4 C173.8,919.1 165.1,920.4 160.5,922.5 C155.9,924.6 151.9,926.3 148.8,930.9 C145.7,935.5 143.5,942.4 141.9,950.2 C140.3,958.0 139.7,966.3 139.1,977.8 C138.5,989.3 137.9,1008.7 138.4,1019.1 C138.9,1029.5 140.2,1030.8 141.9,1040.0 C143.6,1049.2 145.8,1061.6 148.8,1074.5 C151.8,1087.4 156.1,1104.6 159.8,1117.2 C163.5,1129.8 167.5,1141.3 170.9,1150.3 C174.3,1159.3 176.8,1164.5 180.5,1171.0 C184.2,1177.5 188.5,1184.4 192.9,1189.0 C197.3,1193.6 203.0,1196.8 206.7,1198.6 C210.4,1200.4 213.6,1199.8 215.0,1200.0 L457.2,1111.2  C454.5,1108.5 446.5,1099.9 440.9,1094.8 C435.2,1089.7 430.1,1085.6 423.3,1080.8 C416.5,1076.0 407.2,1070.8 400.0,1065.7 C392.8,1060.7 391.9,1059.0 380.2,1050.5 C368.5,1042.0 345.6,1026.7 330.0,1015.0 C314.4,1003.3 300.8,991.8 286.7,980.5 C272.6,969.2 259.1,956.4 245.3,947.4 C231.5,938.4 215.5,931.5 204.0,926.7 C192.5,921.9 181.0,919.8 176.4,918.4 Z" fill="none" stroke="#2a3a2a" stroke-width="0.8"/>
<g stroke="#222" stroke-width="1.1"><line x1="296" y1="1075.8" x2="314" y2="1075.8"/><line x1="304.3" y1="1066" x2="304.3" y2="1086"/></g>
<rect x="168.0" y="913.0" width="7" height="3" rx="1.2" fill="#e8e8e8"/><rect x="243.0" y="941.5" width="7" height="3" rx="1.2" fill="#e8e8e8"/><rect x="309.0" y="989.5" width="7" height="3" rx="1.2" fill="#e8e8e8"/><rect x="367.0" y="1034.5" width="7" height="3" rx="1.2" fill="#e8e8e8"/><rect x="418.0" y="1074.5" width="7" height="3" rx="1.2" fill="#e8e8e8"/><rect x="442.0" y="1097.5" width="7" height="3" rx="1.2" fill="#e8e8e8"/><rect x="467.0" y="1107.0" width="7" height="3" rx="1.2" fill="#e8e8e8"/><rect x="164.5" y="1161.0" width="7" height="3" rx="1.2" fill="#e8e8e8"/>
</svg>
<div class="t b" style="left:514.96px;top:90.31px;font-size:27.60px;letter-spacing:0.538px;transform:scaleX(1.0400)">ILIKE LIGHTING TECHNOLOGY JIONSTOCK COMPANY</div>
<div class="t" style="left:797.94px;top:121.86px;font-size:27.00px;letter-spacing:0.645px;transform:scaleX(1.0600)">kingled.vn/kingeco.vn/kingled.com.vn</div>
<div class="t" style="left:1027.00px;top:152.86px;font-size:27.00px;letter-spacing:0.170px;transform:scaleX(1.0600)">Add: 352 Giai Phong</div>
<div class="t" style="left:1017.48px;top:183.86px;font-size:27.00px;letter-spacing:0.667px;transform:scaleX(1.0600)">Hotline: 1900633669</div>
<div class="t b" style="left:495.52px;top:290.25px;font-size:34.30px;letter-spacing:0.522px;transform:scaleX(1.0400)">Lightsource Test Report</div>
<div class="t" style="left:117.08px;top:367.48px;font-size:27.20px;letter-spacing:0.589px;transform:scaleX(1.0600)">Product Infomation</div>
<div class="t" style="left:117.94px;top:477.08px;font-size:27.20px;letter-spacing:0.209px;transform:scaleX(1.0600)">CIE Colorimetric Parameters</div>
<div class="t" style="left:117.88px;top:1260.68px;font-size:27.20px;letter-spacing:0.271px;transform:scaleX(1.0600)">Photometric Parameters</div>
<div class="t" style="left:117.88px;top:1401.98px;font-size:27.20px;letter-spacing:0.121px;transform:scaleX(1.0600)">Electric Parameters</div>
<div class="t" style="left:144.38px;top:413.94px;font-size:24.70px;letter-spacing:0.370px;transform:scaleX(1.0600)">Product Type: OBR-20SS-D115-TT-D</div>
<div class="t" style="left:705.18px;top:413.94px;font-size:24.70px;letter-spacing:0.632px;transform:scaleX(1.0600)">Product Number: 104</div>
<div class="t" style="left:144.94px;top:523.94px;font-size:24.70px;letter-spacing:0.863px;transform:scaleX(1.0600)">Chromaticity coordinates: x=0.3808 y=0.3753</div>
<div class="t" style="left:743.44px;top:523.94px;font-size:24.70px;letter-spacing:1.256px;transform:scaleX(1.0600)">u(u')=0.2260 v=0.3340 v'=0.5010</div>
<div class="t" style="left:144.94px;top:555.14px;font-size:24.70px;letter-spacing:0.948px;transform:scaleX(1.0600)">CCT: Tc=3978K (duv=-0.00081)</div>
<div class="t" style="left:706.14px;top:555.14px;font-size:24.70px;letter-spacing:0.803px;transform:scaleX(1.0600)">Color Ratio: R=0.197  G=0.768  B=0.036</div>
<div class="t" style="left:144.88px;top:586.34px;font-size:24.70px;letter-spacing:0.552px;transform:scaleX(1.0600)">Peak Wavelength: 449.0nm</div>
<div class="t" style="left:705.08px;top:586.34px;font-size:24.70px;letter-spacing:0.819px;transform:scaleX(1.0600)">Half Bandwidth: 20.1nm</div>
<div class="t" style="left:143.88px;top:617.54px;font-size:24.70px;letter-spacing:0.797px;transform:scaleX(1.0600)">Dominant Wavelength: 579.6nm</div>
<div class="t" style="left:706.14px;top:617.54px;font-size:24.70px;letter-spacing:0.703px;transform:scaleX(1.0600)">Color Purity: 0.269</div>
<div class="t" style="left:144.94px;top:648.74px;font-size:24.70px;letter-spacing:0.654px;transform:scaleX(1.0600)">CRI: Ra: Ra= 90.8</div>
<div class="t" style="left:144.94px;top:742.34px;font-size:24.70px;letter-spacing:0.766px;transform:scaleX(1.0600)">Color Quality Scale: Qa= 90.2, Qf= 89.3, Qp= 92.3, Qg=100.1</div>
<div class="t" style="left:143.88px;top:1307.44px;font-size:24.70px;letter-spacing:0.715px;transform:scaleX(1.0600)">Luminous Flux: 1614.73 lm</div>
<div class="t" style="left:518.08px;top:1307.44px;font-size:24.70px;letter-spacing:0.705px;transform:scaleX(1.0600)">Efficiency: 80.90 lm/W</div>
<div class="t" style="left:998.88px;top:1307.44px;font-size:24.70px;letter-spacing:0.464px;transform:scaleX(1.0600)">Radiant Power: 5.465 W</div>
<div class="t" style="left:143.88px;top:1338.94px;font-size:24.70px;letter-spacing:0.804px;transform:scaleX(1.0600)">EEI:  0.17</div>
<div class="t" style="left:518.08px;top:1338.94px;font-size:24.70px;letter-spacing:0.534px;transform:scaleX(1.0600)">Energy Efficiency Class: A+ (EU 874-2012)</div>
<div class="t" style="left:146.00px;top:1448.74px;font-size:24.70px;letter-spacing:0.477px;transform:scaleX(1.0600)">Voltage: 219.80V</div>
<div class="t" style="left:519.14px;top:1448.74px;font-size:24.70px;letter-spacing:0.730px;transform:scaleX(1.0600)">Current: 0.1790A</div>
<div class="t" style="left:892.58px;top:1448.74px;font-size:24.70px;letter-spacing:0.415px;transform:scaleX(1.0600)">Power: 19.96W</div>
<div class="t" style="left:143.88px;top:1479.44px;font-size:24.70px;letter-spacing:0.482px;transform:scaleX(1.0600)">Power Factor: 0.5070</div>
<div class="t" style="left:518.08px;top:1479.44px;font-size:24.70px;letter-spacing:0.468px;transform:scaleX(1.0600)">Frequency: 49.99Hz</div>
<div class="t" style="left:141.40px;top:1605.75px;font-size:22.70px;letter-spacing:0.847px;transform:scaleX(1.0600)">Test Infomation</div>
<div class="t" style="left:163.54px;top:1632.25px;font-size:22.70px;letter-spacing:0.812px;transform:scaleX(1.0600)">Scan Range: 380~800:1nm</div>
<div class="t" style="left:163.54px;top:1659.05px;font-size:22.70px;letter-spacing:0.683px;transform:scaleX(1.0600)">Stabilization Time: 0 ms</div>
<div class="t" style="left:163.54px;top:1685.45px;font-size:22.70px;letter-spacing:0.744px;transform:scaleX(1.0600)">Max of Signal: 44423 (3925)</div>
<div class="t" style="left:728.44px;top:1632.65px;font-size:22.70px;letter-spacing:0.596px;transform:scaleX(1.0600)">Photometric Method: sphere-spectroradiometer</div>
<div class="t" style="left:728.44px;top:1659.75px;font-size:22.70px;letter-spacing:0.703px;transform:scaleX(1.0600)">Photometric Condition: Sphere diameter: 1.50m, 4PI</div>
<div class="t" style="left:728.44px;top:1685.25px;font-size:22.70px;letter-spacing:0.724px;transform:scaleX(1.0600)">CCD Integration Time: 208.92 ms</div>
<div class="t" style="left:117.44px;top:1797.25px;font-size:23.80px;letter-spacing:0.868px;transform:scaleX(1.0600)">Condition: Tx:27.6'C, Ti:24.1'C, R.H.:60%</div>
<div class="t" style="left:118.50px;top:1825.15px;font-size:23.80px;letter-spacing:0.736px;transform:scaleX(1.0600)">Test Lab:</div>
<div class="t" style="left:117.44px;top:1853.15px;font-size:23.80px;letter-spacing:0.792px;transform:scaleX(1.0600)">Operator:</div>
<div class="t" style="left:706.70px;top:1797.25px;font-size:23.80px;letter-spacing:0.619px;transform:scaleX(1.0600)">Test Device: Inventfine CMS-2S (Plus)</div>
<div class="t" style="left:706.70px;top:1825.15px;font-size:23.80px;letter-spacing:1.129px;transform:scaleX(1.0600)">Test Time: 2022-10-21 16:22:44</div>
<div class="t" style="left:705.28px;top:1853.75px;font-size:23.80px;letter-spacing:1.065px;transform:scaleX(1.0600)">Inspector:</div>
<div class="t" style="left:141.70px;top:863.35px;font-size:20.60px;letter-spacing:0.000px;transform:scaleX(0.9999)">CIE1931 CHROMATICITY DIAGRAM</div>
<div class="t" style="left:143.88px;top:679.94px;font-size:24.70px;letter-spacing:0.902px;transform:scaleX(1.0600)">R1 =92</div>
<div class="t" style="left:285.88px;top:679.94px;font-size:24.70px;letter-spacing:0.902px;transform:scaleX(1.0600)">R2 =92</div>
<div class="t" style="left:427.88px;top:679.94px;font-size:24.70px;letter-spacing:0.866px;transform:scaleX(1.0600)">R3 =91</div>
<div class="t" style="left:569.38px;top:679.94px;font-size:24.70px;letter-spacing:0.866px;transform:scaleX(1.0600)">R4 =92</div>
<div class="t" style="left:711.48px;top:679.94px;font-size:24.70px;letter-spacing:0.866px;transform:scaleX(1.0600)">R5 =91</div>
<div class="t" style="left:852.88px;top:679.94px;font-size:24.70px;letter-spacing:0.866px;transform:scaleX(1.0600)">R6 =89</div>
<div class="t" style="left:994.88px;top:679.94px;font-size:24.70px;letter-spacing:0.866px;transform:scaleX(1.0600)">R7 =93</div>
<div class="t" style="left:1136.88px;top:679.94px;font-size:24.70px;letter-spacing:0.902px;transform:scaleX(1.0600)">R8 =87</div>
<div class="t" style="left:143.88px;top:711.14px;font-size:24.70px;letter-spacing:0.866px;transform:scaleX(1.0600)">R9 =65</div>
<div class="t" style="left:285.88px;top:711.14px;font-size:24.70px;letter-spacing:0.849px;transform:scaleX(1.0600)">R10=80</div>
<div class="t" style="left:427.88px;top:711.14px;font-size:24.70px;letter-spacing:0.923px;transform:scaleX(1.0600)">R11=92</div>
<div class="t" style="left:569.38px;top:711.14px;font-size:24.70px;letter-spacing:0.943px;transform:scaleX(1.0600)">R12=72</div>
<div class="t" style="left:711.48px;top:711.14px;font-size:24.70px;letter-spacing:0.943px;transform:scaleX(1.0600)">R13=91</div>
<div class="t" style="left:852.88px;top:711.14px;font-size:24.70px;letter-spacing:0.943px;transform:scaleX(1.0600)">R14=94</div>
<div class="t" style="left:994.88px;top:711.14px;font-size:24.70px;letter-spacing:0.943px;transform:scaleX(1.0600)">R15=90</div>
<div class="t" style="left:144.94px;top:773.54px;font-size:24.70px;letter-spacing:0.918px;transform:scaleX(1.0600)">Q1 =92</div>
<div class="t" style="left:286.94px;top:773.54px;font-size:24.70px;letter-spacing:0.893px;transform:scaleX(1.0600)">Q2 =98</div>
<div class="t" style="left:428.94px;top:773.54px;font-size:24.70px;letter-spacing:0.893px;transform:scaleX(1.0600)">Q3 =83</div>
<div class="t" style="left:570.44px;top:773.54px;font-size:24.70px;letter-spacing:0.893px;transform:scaleX(1.0600)">Q4 =85</div>
<div class="t" style="left:712.54px;top:773.54px;font-size:24.70px;letter-spacing:0.893px;transform:scaleX(1.0600)">Q5 =90</div>
<div class="t" style="left:853.94px;top:773.54px;font-size:24.70px;letter-spacing:0.893px;transform:scaleX(1.0600)">Q6 =90</div>
<div class="t" style="left:995.94px;top:773.54px;font-size:24.70px;letter-spacing:0.893px;transform:scaleX(1.0600)">Q7 =90</div>
<div class="t" style="left:1137.94px;top:773.54px;font-size:24.70px;letter-spacing:0.993px;transform:scaleX(1.0600)">Q8 =95</div>
<div class="t" style="left:144.94px;top:804.74px;font-size:24.70px;letter-spacing:0.893px;transform:scaleX(1.0600)">Q9 =96</div>
<div class="t" style="left:286.94px;top:804.74px;font-size:24.70px;letter-spacing:0.970px;transform:scaleX(1.0600)">Q10=91</div>
<div class="t" style="left:428.94px;top:804.74px;font-size:24.70px;letter-spacing:0.949px;transform:scaleX(1.0600)">Q11=90</div>
<div class="t" style="left:570.44px;top:804.74px;font-size:24.70px;letter-spacing:0.970px;transform:scaleX(1.0600)">Q12=92</div>
<div class="t" style="left:712.54px;top:804.74px;font-size:24.70px;letter-spacing:0.970px;transform:scaleX(1.0600)">Q13=93</div>
<div class="t" style="left:853.94px;top:804.74px;font-size:24.70px;letter-spacing:0.970px;transform:scaleX(1.0600)">Q14=90</div>
<div class="t" style="left:995.94px;top:804.74px;font-size:24.70px;letter-spacing:0.970px;transform:scaleX(1.0600)">Q15=91</div>
<div class="t" style="left:554.54px;top:867.63px;font-size:21.40px;letter-spacing:1.693px;transform:scaleX(1.0600)">1.2</div>
<div class="t" style="left:554.54px;top:916.93px;font-size:21.40px;letter-spacing:1.193px;transform:scaleX(1.0600)">1.0</div>
<div class="t" style="left:555.60px;top:966.23px;font-size:21.40px;letter-spacing:1.193px;transform:scaleX(1.0600)">0.8</div>
<div class="t" style="left:555.60px;top:1015.53px;font-size:21.40px;letter-spacing:1.193px;transform:scaleX(1.0600)">0.6</div>
<div class="t" style="left:555.60px;top:1064.83px;font-size:21.40px;letter-spacing:0.693px;transform:scaleX(1.0600)">0.4</div>
<div class="t" style="left:555.60px;top:1114.13px;font-size:21.40px;letter-spacing:1.193px;transform:scaleX(1.0600)">0.2</div>
<div class="t" style="left:555.60px;top:1163.43px;font-size:21.40px;letter-spacing:0.693px;transform:scaleX(1.0600)">0.0</div>
<div class="t" style="left:581.60px;top:1190.23px;font-size:21.40px;letter-spacing:0.736px;transform:scaleX(1.0600)">380</div>
<div class="t" style="left:660.10px;top:1190.23px;font-size:21.40px;letter-spacing:0.736px;transform:scaleX(1.0600)">430</div>
<div class="t" style="left:738.60px;top:1190.23px;font-size:21.40px;letter-spacing:0.736px;transform:scaleX(1.0600)">480</div>
<div class="t" style="left:817.10px;top:1190.23px;font-size:21.40px;letter-spacing:0.736px;transform:scaleX(1.0600)">530</div>
<div class="t" style="left:895.60px;top:1190.23px;font-size:21.40px;letter-spacing:0.736px;transform:scaleX(1.0600)">580</div>
<div class="t" style="left:973.04px;top:1190.23px;font-size:21.40px;letter-spacing:1.236px;transform:scaleX(1.0600)">630</div>
<div class="t" style="left:1051.54px;top:1190.23px;font-size:21.40px;letter-spacing:1.236px;transform:scaleX(1.0600)">680</div>
<div class="t" style="left:1130.04px;top:1190.23px;font-size:21.40px;letter-spacing:1.236px;transform:scaleX(1.0600)">730</div>
<div class="t" style="left:1208.54px;top:1190.23px;font-size:21.40px;letter-spacing:1.236px;transform:scaleX(1.0600)">780</div>
<div class="t" style="left:122.70px;top:1205.14px;font-size:20.50px;letter-spacing:0.000px;transform:scaleX(1.0397)">0</div>
<div class="t" style="left:161.70px;top:1205.14px;font-size:20.50px;letter-spacing:0.000px;transform:scaleX(1.0428)">0.1</div>
<div class="t" style="left:249.40px;top:1205.14px;font-size:20.50px;letter-spacing:0.103px;transform:scaleX(1.0600)">0.3</div>
<div class="t" style="left:337.00px;top:1205.14px;font-size:20.50px;letter-spacing:0.103px;transform:scaleX(1.0600)">0.5</div>
<div class="t" style="left:425.40px;top:1205.14px;font-size:20.50px;letter-spacing:0.000px;transform:scaleX(1.0428)">0.7</div>
<div class="t" style="left:495.20px;top:1204.94px;font-size:20.50px;letter-spacing:0.000px;transform:scaleX(0.8909)">x</div>
<div class="t" style="left:122.50px;top:875.24px;font-size:20.50px;letter-spacing:0.000px;transform:scaleX(0.9273)">y</div>
<div class="t" style="left:118.74px;top:921.24px;font-size:20.50px;letter-spacing:0.437px;transform:scaleX(1.0600)">.8</div>
<div class="t" style="left:118.74px;top:989.24px;font-size:20.50px;letter-spacing:0.437px;transform:scaleX(1.0600)">.6</div>
<div class="t" style="left:118.74px;top:1057.24px;font-size:20.50px;letter-spacing:0.437px;transform:scaleX(1.0600)">.4</div>
<div class="t" style="left:118.74px;top:1125.24px;font-size:20.50px;letter-spacing:0.437px;transform:scaleX(1.0600)">.2</div>
</body></html>
